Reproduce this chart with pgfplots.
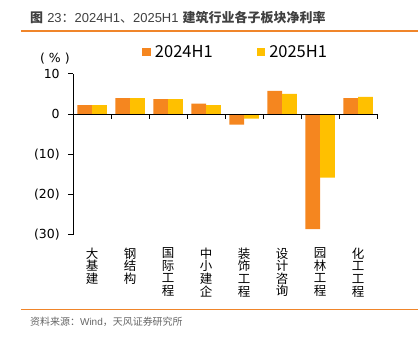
\documentclass[border=0pt]{standalone}
\usepackage{pgfplots}
\pgfplotsset{compat=1.18}
\usepackage{fontspec}
\setmainfont{DejaVu Sans}
\newfontfamily\cjk{Noto Sans CJK SC}
\newfontfamily\arial{Liberation Sans}
\definecolor{barorange}{HTML}{F5861F}
\definecolor{baryellow}{HTML}{FFC000}
\definecolor{lineorange}{HTML}{F0852A}
\definecolor{titlegray}{HTML}{404040}
\definecolor{srcgray}{HTML}{666666}
\begin{document}
\begin{tikzpicture}[x=1pt,y=1pt]
\path (0,0) rectangle (419,-341);
\node[anchor=west, inner sep=0pt, text=titlegray, font=\fontsize{13}{15}\selectfont] at (30,-17.5) {{\cjk\bfseries 图} {\arial 23}{\cjk：}{\arial 2024H1}{\cjk 、}{\arial 2025H1} {\cjk\bfseries 建筑行业各子板块净利率}};
\draw[lineorange, line width=1.3pt] (21,-31) -- (419,-31);
\draw[lineorange, line width=1.3pt] (21,-310) -- (419,-310);
\node[anchor=west, inner sep=0pt, text=srcgray, font=\cjk\fontsize{10}{12}\selectfont] at (30,-322.5) {资料来源：{\arial Wind}，天风证券研究所};
\node[inner sep=0pt, font=\fontsize{12.5}{14}\selectfont] at (55,-58.5) {(\hspace{4pt}\%\hspace{4pt})};
\begin{axis}[
  at={(73.3pt,-235pt)}, anchor=south west,
  scale only axis, width=304.4pt, height=161pt,
  xmin=-0.5, xmax=7.5, ymin=-30, ymax=10,
  axis x line=none, axis y line=left,
  axis line style={-, line width=0.9pt, black},
  ytick={-30,-20,-10,0,10},
  yticklabels={\mbox{(30)},\mbox{(20)},\mbox{(10)},\mbox{0},\mbox{10}},
  yticklabel style={font=\fontsize{12.5}{14}\selectfont, xshift=-5pt},
  tick align=outside, major tick length=5pt,
  tick style={line width=0.9pt, black},
  ybar=0pt, bar width=0.39,
  clip=false,
  legend style={at={(0.2267,1.1366)}, anchor=west, draw=none, fill=none, inner sep=0pt,
    font=\cjk\fontsize{16.5}{18}\selectfont, nodes={inner sep=0pt},
    /tikz/every odd column/.append style={column sep=4.3pt},
    /tikz/every even column/.append style={column sep=44pt}},
  legend columns=2,
  legend image code/.code={\fill[#1] (0pt,-3.9pt) rectangle (8.4pt,3.9pt);},
]
\addplot[fill=barorange, draw=none] coordinates {(0,2.25) (1,4.0) (2,3.75) (3,2.6) (4,-2.6) (5,5.8) (6,-28.6) (7,4.0)};
\addplot[fill=baryellow, draw=none] coordinates {(0,2.25) (1,4.0) (2,3.75) (3,2.25) (4,-1.1) (5,5.0) (6,-15.8) (7,4.3)};
\legend{2024H1,2025H1}
\draw[line width=0.9pt] (axis cs:-0.5,0) -- (axis cs:7.5,0);
\pgfplotsinvokeforeach{0.5,1.5,2.5,3.5,4.5,5.5,6.5,7.5}{\draw[line width=0.9pt] (axis cs:#1,0) -- ++(0pt,-5pt);}
\begin{scope}[every node/.style={anchor=north, inner sep=0pt, align=center, yshift=-13pt, font=\cjk\fontsize{12.5}{12.6}\selectfont}]
\node at (axis cs:0,-30) {大\\基\\建};
\node at (axis cs:1,-30) {钢\\结\\构};
\node at (axis cs:2,-30) {国\\际\\工\\程};
\node at (axis cs:3,-30) {中\\小\\建\\企};
\node at (axis cs:4,-30) {装\\饰\\工\\程};
\node at (axis cs:5,-30) {设\\计\\咨\\询};
\node at (axis cs:6,-30) {园\\林\\工\\程};
\node at (axis cs:7,-30) {化\\工\\工\\程};
\end{scope}
\end{axis}
\end{tikzpicture}
\end{document}
